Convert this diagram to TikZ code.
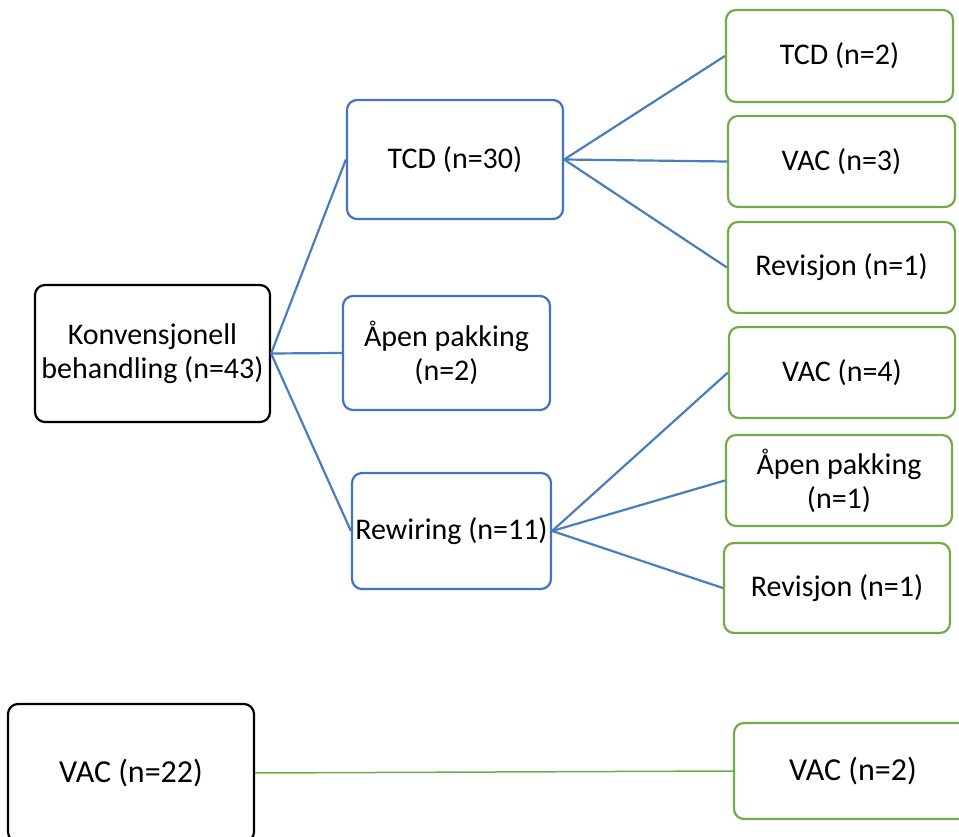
\documentclass[tikz,border=0pt]{standalone}
\usepackage{fontspec}
\setmainfont{Carlito}
\definecolor{boxblue}{RGB}{68,114,196}
\definecolor{boxgreen}{RGB}{112,173,71}
\definecolor{linkblue}{RGB}{74,126,187}
\begin{document}
\begin{tikzpicture}[x=1pt,y=-1pt,
  basebox/.style={draw, rounded corners=10pt, line width=2.2pt, inner sep=0pt,
    align=center, font=\fontsize{30}{34}\selectfont, fill=white},
  rootbox/.style={basebox, draw=black},
  midbox/.style={basebox, draw=boxblue},
  leafbox/.style={basebox, draw=boxgreen},
  link/.style={draw=linkblue, line width=2.2pt},
  greenlink/.style={draw=boxgreen, line width=1.5pt}]
\clip (0,0) rectangle (959,837);
\useasboundingbox (0,0) rectangle (959,837);
% first level
\node[rootbox, minimum width=235pt, minimum height=137pt] (root) at (152.5,353.5) {Konvensjonell\\behandling (n=43)};
% second level
\node[midbox, minimum width=216pt, minimum height=119pt] (tcd) at (455,159.5) {TCD (n=30)};
\node[midbox, minimum width=207pt, minimum height=114pt] (open) at (446.5,353) {Åpen pakking\\(n=2)};
\node[midbox, minimum width=199pt, minimum height=116pt] (rew) at (451.5,531) {Rewiring (n=11)};
% third level
\node[leafbox, minimum width=227pt, minimum height=92pt] (l1) at (839.5,56) {TCD (n=2)};
\node[leafbox, minimum width=227pt, minimum height=91pt] (l2) at (841.5,161.5) {VAC (n=3)};
\node[leafbox, minimum width=227pt, minimum height=91pt] (l3) at (841.5,267.5) {Revisjon (n=1)};
\node[leafbox, minimum width=226pt, minimum height=91pt] (l4) at (842,372.5) {VAC (n=4)};
\node[leafbox, minimum width=226pt, minimum height=91pt] (l5) at (839,480.5) {Åpen pakking\\(n=1)};
\node[leafbox, minimum width=226pt, minimum height=90pt] (l6) at (837,588) {Revisjon (n=1)};
% separate branch at the bottom
\node[rootbox, minimum width=246pt, minimum height=138pt, font=\fontsize{32}{38}\selectfont] (vac) at (131,773) {VAC (n=22)};
\node[leafbox, minimum width=238pt, minimum height=96pt, font=\fontsize{32}{38}\selectfont] (vac2) at (853,771) {VAC (n=2)};
% connectors
\draw[link] (root.east) -- (tcd.west);
\draw[link] (root.east) -- (open.west);
\draw[link] (root.east) -- (rew.west);
\draw[link] (tcd.east) -- (l1.west);
\draw[link] (tcd.east) -- (l2.west);
\draw[link] (tcd.east) -- (l3.west);
\draw[link] (rew.east) -- (l4.west);
\draw[link] (rew.east) -- (l5.west);
\draw[link] (rew.east) -- (l6.west);
\draw[greenlink] (vac.east) -- (vac2.west);
\end{tikzpicture}
\end{document}
